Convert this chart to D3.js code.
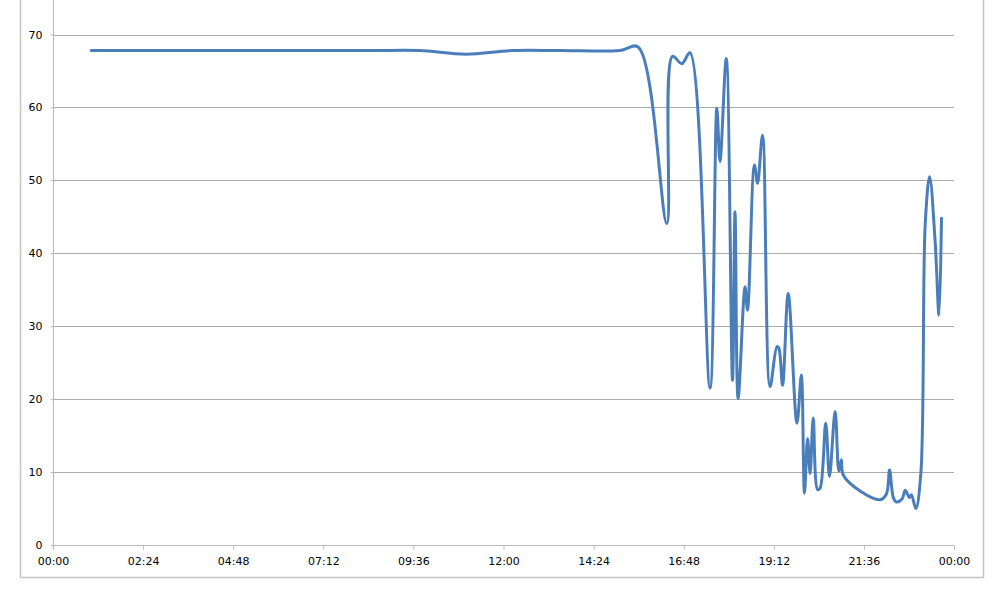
<!DOCTYPE html>
<html>
<head>
<meta charset="utf-8">
<script src="https://cdn.jsdelivr.net/npm/d3@7"></script>
<style>
  html, body { margin: 0; padding: 0; background: #fff; }
  svg { display: block; font-family: "DejaVu Sans", sans-serif; }
</style>
</head>
<body>
<svg id="chart" width="999" height="592"></svg>
<script>
// ---- data (time of day, value) ----
const times = ["01:01","03:30","06:00","08:30","09:45","11:00","12:15","13:30","15:06","15:35","16:21","16:30","16:45","16:58",
  "17:30","17:41","17:46","17:56","18:06","18:10","18:15","18:26","18:30","18:41","18:46","18:54",
  "19:06","19:17","19:20","19:26","19:35","19:49","19:56","20:01","20:06","20:10","20:15","20:22",
  "20:26","20:35","20:41","20:50","20:56","21:00","21:03","21:30","22:02","22:12","22:17","22:23",
  "22:28","22:37","22:42","22:49","22:52","22:59","23:07","23:14","23:21","23:30","23:36","23:40"];
const values = [67.8,67.8,67.8,67.8,67.8,67.3,67.8,67.8,67.8,68.3,44.1,67.0,66.0,67.5,
  21.5,59.9,52.6,66.7,22.6,45.7,20.1,35.4,32.2,52.1,49.6,56.2,
  21.7,27.2,27.0,21.9,34.5,16.7,23.3,7.1,14.6,9.8,17.4,7.6,
  7.8,16.7,9.4,18.3,10.1,11.7,9.6,7.4,6.2,7.0,10.3,6.5,
  5.9,6.3,7.5,6.5,6.9,5.0,9.8,44.0,50.5,41.4,31.5,44.8];
const yTicks = [0,10,20,30,40,50,60,70];
const xTickLabels = ["00:00","02:24","04:48","07:12","09:36","12:00","14:24","16:48","19:12","21:36","00:00"];
const xTickMinutes = [0,144,288,432,576,720,864,1008,1152,1296,1440];

// ---- build ----
const toMin = s => { const [h,m] = s.split(":").map(Number); return h*60+m; };
const data = times.map((t,i) => ({t: toMin(t), v: values[i]}));

const svg = d3.select("#chart");
const x = d3.scaleLinear().domain([0,1440]).range([53,954]);
const y = d3.scaleLinear().domain([0,70]).range([545,34.5]);

const gridColor = "#ababab";
const axisColor = "#b8b8b8";
const fontSize = "11px";

// outer frame
svg.append("path")
  .attr("d", "M20.5,0 V577.5 H983.5 V0")
  .attr("fill","none").attr("stroke","#c4c4c4").attr("stroke-width",1.5);

// gridlines
svg.append("g").selectAll("line").data(yTicks.filter(d=>d>0)).join("line")
  .attr("x1", x(0)).attr("x2", x(1440))
  .attr("y1", d=>Math.round(y(d))+0.5).attr("y2", d=>Math.round(y(d))+0.5)
  .attr("stroke", gridColor).attr("stroke-width",1);

// y axis
const yAxis = d3.axisLeft(y).tickValues(yTicks).tickSize(3).tickPadding(8).tickFormat(d3.format("d"));
const gy = svg.append("g").attr("transform","translate(53.5,0)").call(yAxis);
gy.select(".domain").remove();
gy.append("line").attr("x1",0).attr("x2",0).attr("y1",0).attr("y2",y(0)).attr("stroke",axisColor);
gy.selectAll(".tick line").attr("stroke",axisColor);
gy.selectAll(".tick text").attr("fill","#000").style("font-size",fontSize).style("font-family","'DejaVu Sans', sans-serif");

// x axis
const xAxis = d3.axisBottom(x).tickValues(xTickMinutes).tickSize(4).tickPadding(8)
  .tickFormat((d,i)=>xTickLabels[i]);
const gx = svg.append("g").attr("transform",`translate(0,${Math.round(y(0))+0.5})`).call(xAxis);
gx.select(".domain").attr("stroke",axisColor).attr("d", `M${x(0)},0H${x(1440)}`);
gx.selectAll(".tick line").attr("stroke",axisColor);
gx.selectAll(".tick text").attr("fill","#000").style("font-size",fontSize).style("font-family","'DejaVu Sans', sans-serif");

// series
const line = d3.line().x(d=>x(d.t)).y(d=>y(d.v)).curve(d3.curveCatmullRom.alpha(0.5));
svg.append("path").datum(data)
  .attr("d", line)
  .attr("fill","none")
  .attr("stroke","#4a7ebb")
  .attr("stroke-width",3)
  .attr("stroke-linejoin","round")
  .attr("stroke-linecap","round");
</script>
</body>
</html>
